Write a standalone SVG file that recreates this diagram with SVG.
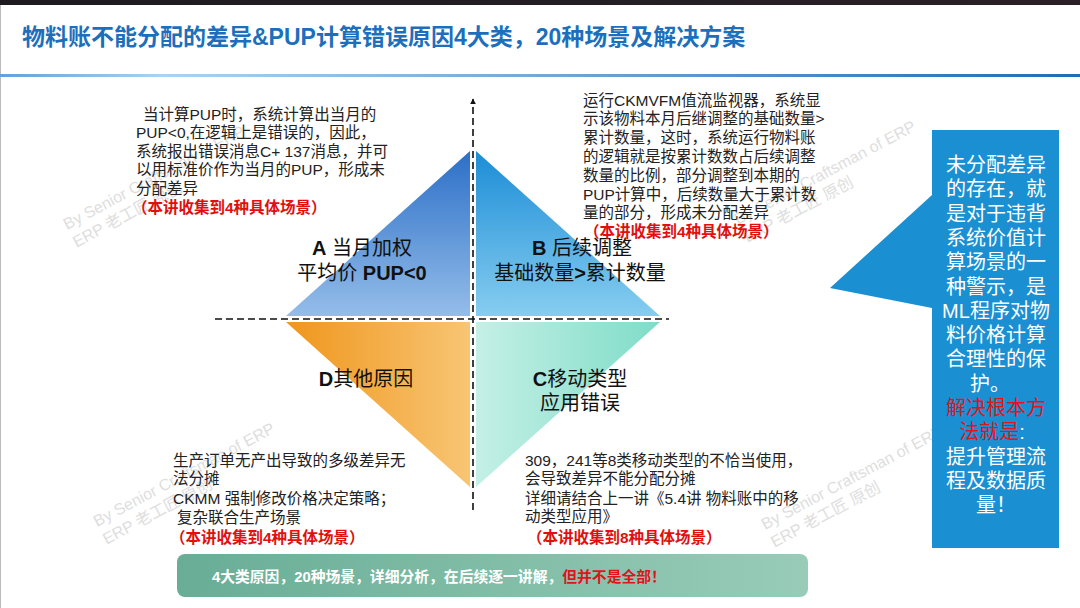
<svg xmlns="http://www.w3.org/2000/svg" width="1080" height="608" viewBox="0 0 1080 608">
<defs>
<style>
.t{font-family:"Liberation Sans","Noto Sans CJK SC",sans-serif;}
.body{font-size:15.5px;fill:#222;}
.red{fill:#e0100f;font-weight:bold;}
.lab{font-size:20px;fill:#111;text-anchor:middle;}
.b{font-weight:bold;}
.call{font-size:20px;fill:#fff;text-anchor:middle;}
.wm{font-size:16px;fill:#d4d4d4;opacity:0.75;}
.axis{stroke:#111;stroke-width:1.6;stroke-dasharray:7 4;fill:none;}
</style>
<linearGradient id="gTop" x1="0" y1="0" x2="1" y2="0"><stop offset="0" stop-color="#1d1b20"/><stop offset="1" stop-color="#2a2026"/></linearGradient>
<linearGradient id="gLine" x1="0" y1="0" x2="1" y2="0"><stop offset="0" stop-color="#5fa2dc"/><stop offset="0.15" stop-color="#a9d3f2"/><stop offset="1" stop-color="#1f6cb5"/></linearGradient>
<linearGradient id="gA" x1="0" y1="0" x2="0" y2="1"><stop offset="0" stop-color="#2c6fc7"/><stop offset="1" stop-color="#94bde9"/></linearGradient>
<linearGradient id="gB" x1="0" y1="0" x2="0" y2="1"><stop offset="0" stop-color="#1c8dd6"/><stop offset="1" stop-color="#86cdf0"/></linearGradient>
<linearGradient id="gC" x1="0" y1="0" x2="1" y2="0"><stop offset="0" stop-color="#c4f0e6"/><stop offset="1" stop-color="#7fdcc8"/></linearGradient>
<linearGradient id="gD" x1="0" y1="0" x2="1" y2="0"><stop offset="0" stop-color="#ef961c"/><stop offset="1" stop-color="#f8c574"/></linearGradient>
<linearGradient id="gBan" x1="0" y1="0" x2="1" y2="0"><stop offset="0" stop-color="#69ad96"/><stop offset="1" stop-color="#98ccb8"/></linearGradient>
<marker id="arr" viewBox="0 0 10 10" refX="9" refY="5" markerWidth="6" markerHeight="6" orient="auto" markerUnits="userSpaceOnUse">
<path d="M0,0 L10,5 L0,10 Z" fill="#111"/>
</marker>
</defs>
<rect width="1080" height="608" fill="#fff"/>
<rect width="1080" height="5" fill="url(#gTop)"/>
<line x1="0.5" y1="5" x2="0.5" y2="608" stroke="#bbb" stroke-width="1"/>

<g id="title">
<text class="t" x="22" y="45" font-size="23" font-weight="bold" fill="#1c6fbc">物料账不能分配的差异&amp;PUP计算错误原因4大类，20种场景及解决方案</text>
<rect x="0" y="74" width="1080" height="3" fill="url(#gLine)"/>
</g>

<g id="watermarks" class="t">
<text class="wm" transform="translate(67,230) rotate(-28)">By Senior Craftsman of ERP<tspan x="0" y="20">ERP 老工匠 原创</tspan></text>
<text class="wm" transform="translate(738,225) rotate(-28)">By Senior Craftsman of ERP<tspan x="0" y="20">ERP 老工匠 原创</tspan></text>
<text class="wm" transform="translate(97,527) rotate(-28)">By Senior Craftsman of ERP<tspan x="0" y="20">ERP 老工匠 原创</tspan></text>
<text class="wm" transform="translate(765,530) rotate(-28)">By Senior Craftsman of ERP<tspan x="0" y="20">ERP 老工匠 原创</tspan></text>
</g>

<g id="quadrant-A">
<polygon points="286,316 470,151 470,316" fill="url(#gA)"/>
<text class="t lab" x="362" y="255"><tspan class="b">A</tspan> 当月加权</text>
<text class="t lab" x="362" y="280">平均价 <tspan class="b">PUP&lt;0</tspan></text>
</g>
<g id="quadrant-B">
<polygon points="476,151 660,316 476,316" fill="url(#gB)"/>
<text class="t lab" x="582" y="255"><tspan class="b">B</tspan> 后续调整</text>
<text class="t lab" x="580" y="280">基础数量<tspan class="b">&gt;</tspan>累计数量</text>
</g>
<g id="quadrant-C">
<polygon points="476,322 660,322 476,487" fill="url(#gC)"/>
<text class="t lab" x="580" y="386"><tspan class="b">C</tspan>移动类型</text>
<text class="t lab" x="580" y="410">应用错误</text>
</g>
<g id="quadrant-D">
<polygon points="286,322 470,322 470,487" fill="url(#gD)"/>
<text class="t lab" x="366" y="386"><tspan class="b">D</tspan>其他原因</text>
</g>

<g id="connectors">
<line class="axis" x1="473" y1="510" x2="473" y2="99" marker-end="url(#arr)"/>
<line class="axis" x1="215" y1="319" x2="669" y2="319"/>
</g>

<g id="text-A" class="t body">
<text x="143" y="119.5">当计算PUP时，系统计算出当月的</text>
<text x="136" y="138">PUP&lt;0,在逻辑上是错误的，因此，</text>
<text x="136" y="156.5">系统报出错误消息C+ 137消息，并可</text>
<text x="136" y="175">以用标准价作为当月的PUP，形成未</text>
<text x="136" y="193.5">分配差异</text>
<text class="red" x="132" y="212.5">（本讲收集到4种具体场景）</text>
</g>

<g id="text-B" class="t body">
<text x="583" y="105.5">运行CKMVFM值流监视器，系统显</text>
<text x="583" y="124.3">示该物料本月后继调整的基础数量&gt;</text>
<text x="583" y="143.1">累计数量，这时，系统运行物料账</text>
<text x="583" y="161.9">的逻辑就是按累计数数占后续调整</text>
<text x="583" y="180.7">数量的比例，部分调整到本期的</text>
<text x="583" y="199.5">PUP计算中，后续数量大于累计数</text>
<text x="583" y="218.3">量的部分，形成未分配差异</text>
<text class="red" x="584" y="237">（本讲收集到4种具体场景）</text>
</g>

<g id="text-D" class="t body">
<text x="173" y="465.5">生产订单无产出导致的多级差异无</text>
<text x="173" y="484">法分摊</text>
<text x="173" y="503.5">CKMM 强制修改价格决定策略；</text>
<text x="177" y="522.5">复杂联合生产场景</text>
<text class="red" x="170" y="542.5">（本讲收集到4种具体场景）</text>
</g>

<g id="text-C" class="t body">
<text x="525" y="465.5">309，241等8类移动类型的不恰当使用，</text>
<text x="525" y="484">会导致差异不能分配分摊</text>
<text x="525" y="503.5">详细请结合上一讲《5.4讲 物料账中的移</text>
<text x="525" y="522">动类型应用》</text>
<text class="red" x="527" y="542.5">（本讲收集到8种具体场景）</text>
</g>

<g id="callout">
<path d="M932,130 H1059 V548 H932 V308 L830,288 L932,195 Z" fill="#1a90d2"/>
<g class="t call">
<text x="996" y="172">未分配差异</text>
<text x="996" y="196.3">的存在，就</text>
<text x="996" y="220.6">是对于违背</text>
<text x="996" y="244.9">系统价值计</text>
<text x="996" y="269.2">算场景的一</text>
<text x="996" y="293.5">种警示，是</text>
<text x="996" y="317.8">ML程序对物</text>
<text x="996" y="342.1">料价格计算</text>
<text x="996" y="366.4">合理性的保</text>
<text x="990" y="390.7">护。</text>
<text x="996" y="415" fill="#e0141a">解决根本方</text>
<text x="992" y="439.3"><tspan fill="#e0141a">法就是</tspan>:</text>
<text x="996" y="463.6">提升管理流</text>
<text x="996" y="487.9">程及数据质</text>
<text x="996" y="512.2">量！</text>
</g>
</g>

<g id="banner">
<rect x="177" y="554" width="631" height="43" rx="8" fill="url(#gBan)"/>
<text class="t" x="212" y="581.5" font-size="14.8" font-weight="bold" fill="#fff">4大类原因，20种场景，详细分析，在后续逐一讲解，<tspan fill="#e0141a">但并不是全部！</tspan></text>
</g>
</svg>
